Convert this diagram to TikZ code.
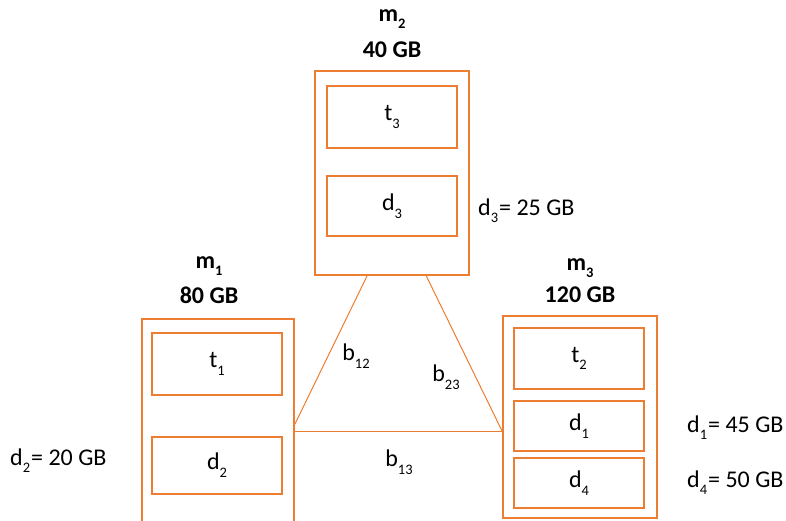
\documentclass[tikz,border=0pt]{standalone}
\usepackage{fontspec}
\setmainfont{Carlito}
\usetikzlibrary{positioning, calc}
\definecolor{boxorange}{RGB}{237,125,49}
\newcommand{\sbs}[1]{\raisebox{-0.32em}{\fontsize{14.5}{15}\selectfont #1}}

\begin{document}
\begin{tikzpicture}[x=1pt, y=-1pt,
    % machine (outer) box style
    machine/.style={
        rectangle,
        draw=boxorange,
        line width=1.8pt,
        inner sep=0pt
    },
    % task / data box style
    item/.style={
        rectangle,
        draw=boxorange,
        line width=1.8pt,
        minimum width=130pt,
        inner sep=0pt,
        font=\fontsize{24}{28}\selectfont
    },
    link/.style={
        draw=boxorange,
        line width=1pt
    },
    capt/.style={
        font=\fontsize{24}{28}\selectfont\bfseries,
        inner sep=0pt
    },
    note/.style={
        font=\fontsize{24}{28}\selectfont,
        inner sep=0pt
    }
]
\useasboundingbox (0,0) rectangle (786,521);
\clip (0,0) rectangle (786,521);

% === Machine m2 (top) ===
\node[machine, minimum width=154pt, minimum height=204pt] (m2) at (392,173) {};
\node[item, minimum height=62pt] (t3) at (392,117) {t\sbs{3}};
\node[item, minimum height=60pt] (d3) at (392,206) {d\sbs{3}};
\node[capt, anchor=base] (m2size) at ([yshift=13pt]m2.north) {40 GB};
\node[capt, anchor=base] (m2name) at ([yshift=36pt]m2size.base) {m\sbs{2}};

% === Machine m1 (left) ===
\node[machine, minimum width=152pt, minimum height=216pt] (m1) at (218,427) {};
\node[item, minimum height=62pt] (t1) at (217,364) {t\sbs{1}};
\node[item, minimum height=57pt] (d2) at (217,465.5) {d\sbs{2}};
\node[capt, anchor=base] (m1size) at ([xshift=-9pt, yshift=15pt]m1.north) {80 GB};
\node[capt, anchor=base] (m1name) at ([yshift=35pt]m1size.base) {m\sbs{1}};

% === Machine m3 (right) ===
\node[machine, minimum width=154pt, minimum height=202pt] (m3) at (580,417) {};
\node[item, minimum height=61pt] (t2) at (579,358.5) {t\sbs{2}};
\node[item, minimum height=50pt] (d1) at (579,426) {d\sbs{1}};
\node[item, minimum height=50pt] (d4) at (579,483) {d\sbs{4}};
\node[capt, anchor=base] (m3size) at ([yshift=13pt]m3.north) {120 GB};
\node[capt, anchor=base] (m3name) at ([yshift=32pt]m3size.base) {m\sbs{3}};

% === Links between machines ===
\coordinate (a12) at ($(m2.south west)!0.34!(m2.south east)$);
\coordinate (a23) at ($(m2.south west)!0.72!(m2.south east)$);
\coordinate (e12) at ([yshift=-106pt]m1.north east);
\coordinate (e13) at ([yshift=-113pt]m1.north east);
\coordinate (j3) at ([yshift=-116pt]m3.north west);
\draw[link] (a12) -- (e12);
\draw[link] (a23) -- (j3);
\draw[link] (e13) -- (j3);

\node[note] (b12) at (356,356) {b\sbs{12}};
\node[note] (b23) at (446,377) {b\sbs{23}};
\node[note] (b13) at (399,462) {b\sbs{13}};

% === Data sizes ===
\node[note, anchor=base west] (d3size) at (478,215) {d\sbs{3}\kern1pt= 25 GB};
\node[note, anchor=base west] (d2size) at (10,465) {d\sbs{2}\kern1pt= 20 GB};
\node[note, anchor=base west] (d1size) at (687,432) {d\sbs{1}\kern1pt= 45 GB};
\node[note, anchor=base west] (d4size) at (687,487) {d\sbs{4}\kern1pt= 50 GB};

\end{tikzpicture}
\end{document}
